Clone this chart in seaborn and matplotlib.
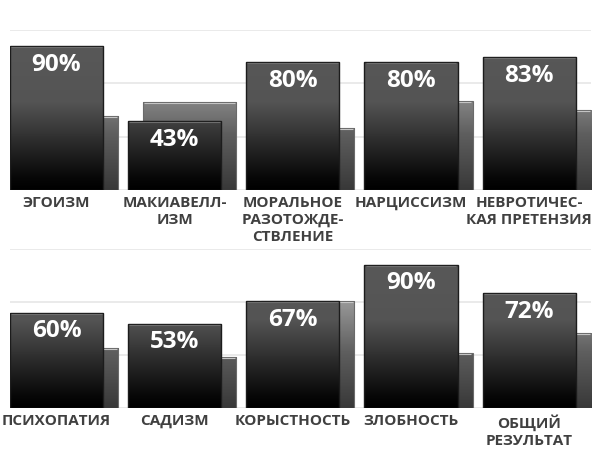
import matplotlib
matplotlib.use("Agg")
import matplotlib.pyplot as plt
import numpy as np
import pandas as pd
import seaborn as sns

# values (share of the scale maximum)
top_labels = ["ЭГОИЗМ", "МАКИАВЕЛЛ-\nИЗМ", "МОРАЛЬНОЕ\nРАЗОТОЖДЕ-\nСТВЛЕНИЕ",
              "НАРЦИССИЗМ", "НЕВРОТИЧЕС-\nКАЯ ПРЕТЕНЗИЯ"]
top_score = [0.90, 0.43, 0.80, 0.80, 0.83]
top_avg = [0.46, 0.55, 0.385, 0.556, 0.50]

bottom_labels = ["ПСИХОПАТИЯ", "САДИЗМ", "КОРЫСТНОСТЬ", "ЗЛОБНОСТЬ",
                 "ОБЩИЙ\nРЕЗУЛЬТАТ"]
bottom_score = [0.60, 0.53, 0.67, 0.90, 0.72]
bottom_avg = [0.38, 0.32, 0.67, 0.345, 0.47]

grid_ticks = [0, 1 / 3, 2 / 3, 1]

BAR_W = 0.788
SHIFT = 0.127

sns.set_theme(style="white")
plt.rcParams["font.family"] = ["Open Sans", "DejaVu Sans"]

fig = plt.figure(figsize=(5.97, 4.70), dpi=100)
ax_top = fig.add_axes([0.01675, 0.5957, 0.9727, 0.3404])
ax_bot = fig.add_axes([0.01675, 0.1313, 0.9727, 0.3394])


def gradient_fill(ax, patches, ystops, gstops, z):
    yy = np.linspace(0, 1, 256)
    g = np.interp(yy, ystops, gstops)
    img = np.stack([g, g, g], axis=-1)[:, None, :].repeat(2, axis=1)
    for p in patches:
        x0 = p.get_x()
        w = p.get_width()
        im = ax.imshow(img, extent=[x0, x0 + w, 0, 1], origin="lower",
                       aspect="auto", zorder=z, interpolation="bilinear")
        im.set_clip_path(p)
        p.set_facecolor("none")


def draw_row(ax, labels, score, avg):
    pos = np.arange(len(labels), dtype=float)
    df_avg = pd.DataFrame({"x": pos + SHIFT, "v": avg})
    df_score = pd.DataFrame({"x": pos, "v": score})

    sns.barplot(data=df_avg, x="x", y="v", native_scale=True, orient="x",
                width=BAR_W, color="#777777", saturation=1, errorbar=None,
                edgecolor="#6a6a6a", linewidth=0.8, ax=ax, zorder=2)
    back = list(ax.patches)
    sns.barplot(data=df_score, x="x", y="v", native_scale=True, orient="x",
                width=BAR_W, color="#333333", saturation=1, errorbar=None,
                edgecolor="#1c1c1c", linewidth=1.0, ax=ax, zorder=4)
    front = [p for p in ax.patches if p not in back]

    gradient_fill(ax, back, [0, 0.35, 0.7, 1.0], [0.22, 0.37, 0.62, 0.68], 1.5)
    gradient_fill(ax, front, [0, 0.08, 0.55, 1.0], [0.0, 0.03, 0.33, 0.35], 3.5)

    # light rim on top of each bar
    for p, c in [(p, "#c4c4c4") for p in back] + [(p, "#6e6e6e") for p in front]:
        ax.plot([p.get_x() + 0.01, p.get_x() + p.get_width() - 0.01],
                [p.get_height() - 0.006] * 2, color=c, lw=0.8,
                zorder=p.get_zorder() + 0.1, solid_capstyle="butt")

    for x, v in zip(pos, score):
        ax.annotate(f"{round(v * 100)}%", (x, v), xytext=(0, -13.5),
                    textcoords="offset points", ha="center", va="center",
                    color="white", fontsize=17.5, fontweight="bold", zorder=6)

    ax.set_xlim(-BAR_W / 2, len(labels) - 1 + SHIFT + BAR_W / 2)
    ax.set_ylim(0, 1)
    ax.set_yticks(grid_ticks)
    ax.set_yticklabels([])
    ax.grid(axis="y", color="#e8e8e8", lw=1.3)
    ax.set_axisbelow(True)
    ax.set_xticks(pos)
    ax.set_xticklabels(labels, fontsize=11, fontweight="bold", color="#404040",
                       linespacing=1.27, ha="center", multialignment="center")
    ax.tick_params(axis="x", length=0, pad=4)
    ax.tick_params(axis="y", length=0)
    ax.set_xlabel("")
    ax.set_ylabel("")
    for s in ax.spines.values():
        s.set_visible(False)


draw_row(ax_top, top_labels, top_score, top_avg)
draw_row(ax_bot, bottom_labels, bottom_score, bottom_avg)

fig.savefig("out.png", dpi=100, facecolor="white")
